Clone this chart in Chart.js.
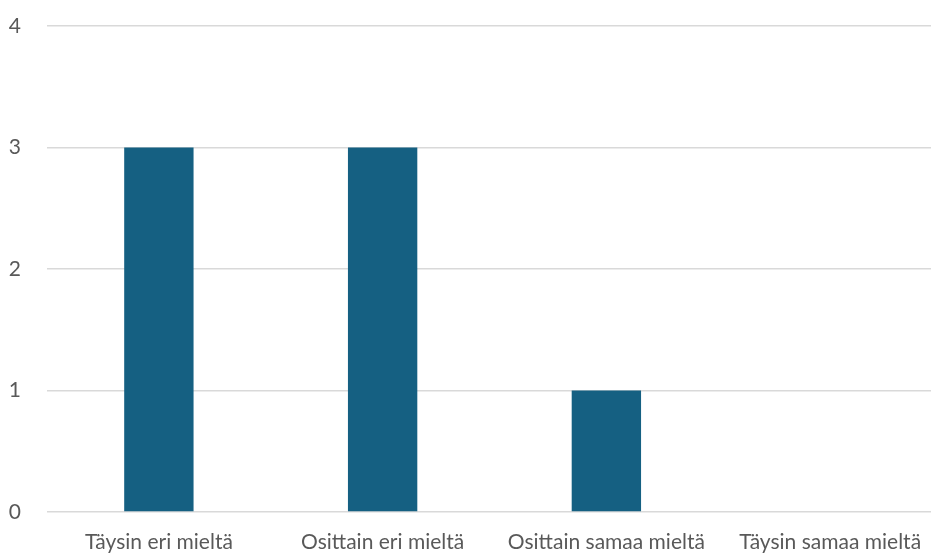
<!DOCTYPE html>
<html>
<head>
<meta charset="utf-8">
<script src="https://cdn.jsdelivr.net/npm/chart.js@4"></script>
<style>
  html, body { margin: 0; padding: 0; background: #fff; overflow: hidden; }
  #wrap { width: 942px; height: 554px; }
</style>
</head>
<body>
<div id="wrap"><canvas id="mycanvas"></canvas></div>
<script>
var categories = ['Täysin eri mieltä', 'Osittain eri mieltä', 'Osittain samaa mieltä', 'Täysin samaa mieltä'];
var counts = [3, 3, 1, 0];
var yTicks = [0, 1, 2, 3, 4];

var ctx = document.getElementById('mycanvas');
var labelFont = { family: 'Lato', size: 21 };

new Chart(ctx, {
  type: 'bar',
  data: {
    labels: categories,
    datasets: [{
      data: counts,
      backgroundColor: '#156082',
      borderWidth: 0,
      categoryPercentage: 1,
      barPercentage: 0.31
    }]
  },
  options: {
    responsive: true,
    maintainAspectRatio: false,
    animation: false,
    layout: { padding: { top: 26, right: 0, left: 0, bottom: 0 } },
    plugins: { legend: { display: false }, tooltip: { enabled: false } },
    scales: {
      x: {
        grid: { display: false },
        border: { display: false },
        ticks: { color: '#595959', font: labelFont, maxRotation: 0, autoSkip: false, padding: 10 },
        afterFit: function(scale) { scale.height = 42; }
      },
      y: {
        min: yTicks[0],
        max: yTicks[yTicks.length - 1],
        grid: { color: '#d9d9d9', lineWidth: 1.5, drawTicks: false },
        border: { display: false },
        ticks: { stepSize: 1, color: '#595959', font: labelFont, padding: 26 },
        afterFit: function(scale) {
          scale.width = 47;
          scale.paddingTop = 0;
          scale.paddingBottom = 0;
        }
      }
    }
  }
});
</script>
</body>
</html>
